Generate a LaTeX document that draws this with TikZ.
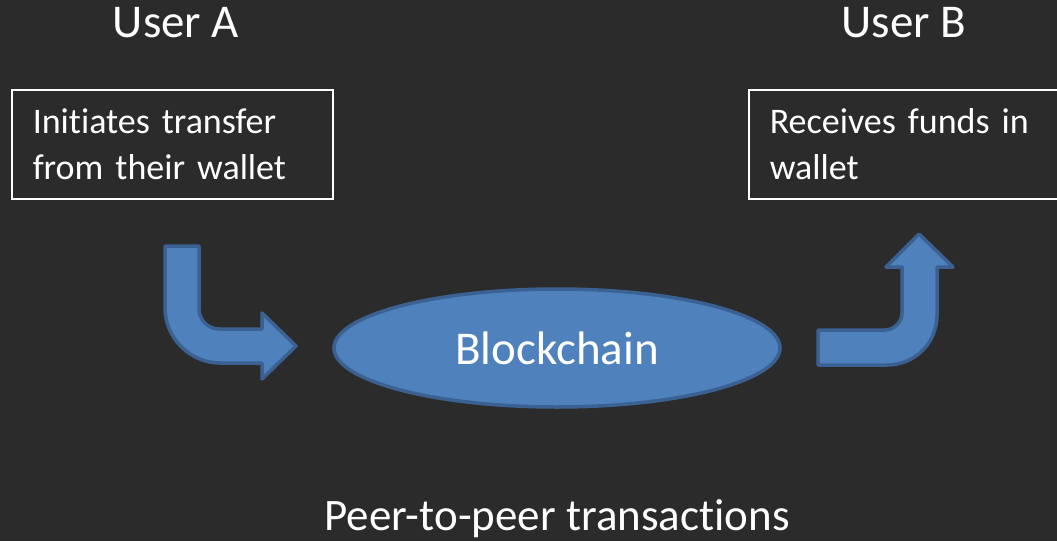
\documentclass[tikz,border=0pt]{standalone}
\usepackage{fontspec}
\setmainfont{Carlito}[Ligatures=NoCommon]
\usetikzlibrary{shapes.geometric}
\definecolor{bgdark}{HTML}{2B2B2B}
\definecolor{chainfill}{HTML}{4F81BD}
\definecolor{chainline}{HTML}{3A6192}
\tikzset{
  user/.style={text=white,font=\fontsize{47}{56}\selectfont,inner sep=0pt},
  wallet box/.style={draw=white,line width=1.5pt,anchor=north west,minimum height=109pt,
    inner xsep=21pt,align=left,text=white,font=\fontsize{36}{46}\selectfont},
  chain/.style={ellipse,draw=chainline,fill=chainfill,line width=3.5pt,minimum width=446pt,
    minimum height=118pt,inner sep=0pt,text=white,font=\fontsize{47}{54}\selectfont},
  bent/.style={draw=chainline,fill=chainfill,line width=3.5pt,line join=round},
  caption/.style={text=white,font=\fontsize{45}{52}\selectfont,inner sep=0pt},
}
\begin{document}
\begin{tikzpicture}[x=1pt,y=-1pt]
  \fill[bgdark] (0,0) rectangle (1057,541);
  \useasboundingbox (0,0) rectangle (1057,541);
  \clip (0,0) rectangle (1057,541);
  % users and their wallets
  \node[user,anchor=base] (userA) at (176,37) {User A};
  \node[user,anchor=base] (userB) at (904,37) {User B};
  \node[wallet box,minimum width=321pt,text width=279pt] (sendbox) at (11,89) {Initiates transfer\\from their wallet};
  \node[wallet box,minimum width=314pt,text width=272pt] (recvbox) at (748,89) {Receives funds in\\wallet};
  % ledger
  \node[chain] (chain) at (557,348) {Blockchain};
  % bent arrows
  \draw[bent] (165,246) -- (199,246) -- (199,309) .. controls (199,320) and (208,329) .. (219,329)
    -- (262,329) -- (262,313) -- (296,346) -- (262,379) -- (262,363) -- (220,363)
    .. controls (190,363) and (165,338) .. (165,308) -- cycle;
  \draw[bent] (818,330) -- (885,330) .. controls (894,330) and (902,322) .. (902,313)
    -- (902,267) -- (886,267) -- (919,234) -- (953,267) -- (937,267) -- (937,315)
    .. controls (937,343) and (915,365) .. (887,365) -- (818,365) -- cycle;
  \node[caption,anchor=base] (peer) at (557,530) {Peer-to-peer transactions};
\end{tikzpicture}
\end{document}
